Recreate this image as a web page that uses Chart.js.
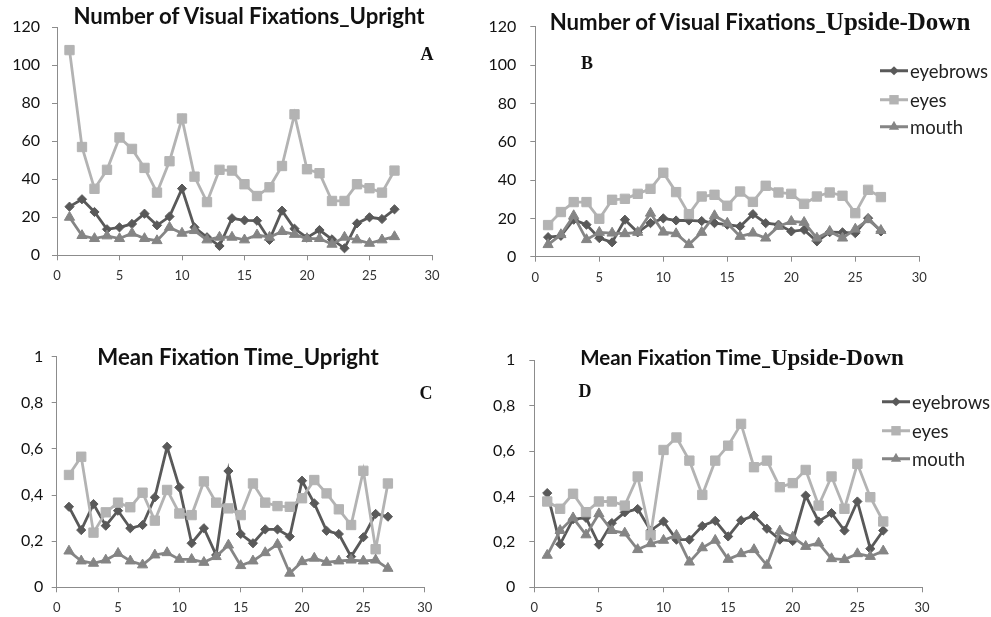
<!DOCTYPE html>
<html>
<head>
<meta charset="utf-8">
<script src="https://cdn.jsdelivr.net/npm/chart.js@4.4.1/dist/chart.umd.min.js"></script>
<style>
html,body{margin:0;padding:0;background:#fff;}
body{width:991px;height:617px;overflow:hidden;position:relative;}
canvas{position:absolute;}
.t{position:absolute;white-space:nowrap;transform:translate(-50%,-50%);font-family:Lato,sans-serif;font-weight:bold;color:#111;line-height:1;font-size:22.2px;}
.t .s{font-family:"Liberation Serif",serif;font-weight:bold;font-size:25px;}
.t.d{font-size:20.5px;}
.t.d .s{font-size:23px;}
.lt{position:absolute;font-family:"Liberation Serif",serif;font-weight:bold;font-size:18px;color:#111;line-height:1;transform:translate(-50%,-50%);}
.lg{position:absolute;display:flex;align-items:center;font-family:Lato,sans-serif;font-size:18.5px;color:#222;line-height:1;transform:translateY(-50%);}
.lg svg{margin-right:2px;}
</style>
</head>
<body>
<canvas id="cA" width="470" height="300" style="left:0;top:0"></canvas>
<canvas id="cB" width="521" height="300" style="left:470px;top:0"></canvas>
<canvas id="cC" width="470" height="317" style="left:0;top:300px"></canvas>
<canvas id="cD" width="521" height="317" style="left:470px;top:300px"></canvas>

<div class="t" style="left:249px;top:16px">Number of Visual Fixations_Upright</div>
<div class="t" style="left:760px;top:21px">Number of Visual Fixations_<span class="s">Upside-Down</span></div>
<div class="t" style="left:238px;top:357px">Mean Fixation Time_Upright</div>
<div class="t d" style="left:742px;top:357px">Mean Fixation Time_<span class="s">Upside-Down</span></div>

<div class="lt" style="left:427px;top:54px">A</div>
<div class="lt" style="left:587px;top:63px">B</div>
<div class="lt" style="left:426px;top:393px">C</div>
<div class="lt" style="left:585px;top:391px">D</div>

<div id="legends"></div>

<script>
// ---- data ----
const subjects = [1,2,3,4,5,6,7,8,9,10,11,12,13,14,15,16,17,18,19,20,21,22,23,24,25,26,27];
const seriesNames = ['eyebrows','eyes','mouth'];

// A: Number of Visual Fixations, Upright
const eyebrowsA = [25.6,29.5,22.8,13.7,14.7,16.5,21.9,15.8,20.4,35.1,14.7,9.5,4.9,19.5,18.4,18.2,8.1,23.5,14,9.3,13.3,8.4,3.7,16.8,20,19.1,24.2];
const eyesA     = [108,57,35,45,62,56,46,33,49.5,72,41.4,28,45,44.6,37.4,31.2,35.8,47,74.2,45.3,43.2,28.6,28.6,37.4,35.3,33,44.6];
const mouthA    = [20,10.4,8.8,10.2,8.8,11.6,8.8,7.7,14.7,11.6,13,8.1,9.5,9.5,8.1,10.7,9.5,12.5,11,8.8,8.8,5.8,9.5,8.1,6.3,8.1,9.8];

// B: Number of Visual Fixations, Upside-Down
const eyebrowsB = [10.2,10.9,19.3,16.7,9.7,7.5,19.3,12.7,17.5,20,18.9,18.9,18.6,17.5,16.7,15.8,22.2,17.5,16.7,13.2,14,8,12.8,12.7,12.3,20.1,13.2];
const eyesB     = [16.5,23.3,28.5,28.5,19.8,29.7,30.2,32.8,35.4,43.8,33.7,22.2,31.4,32.3,26.6,34,28.6,37,33.5,32.8,27.6,31.4,33.5,31.8,22.7,34.9,31.1];
const mouthB    = [6.3,11.5,21.4,8.9,12.7,12.3,12,12.7,22.7,12.8,12,6.3,12.7,21.4,17.5,10.6,12.3,9.7,15.8,18.4,17.9,9.7,13.2,9.7,14.4,19.3,13.7];

// C: Mean Fixation Time, Upright
const eyebrowsC = [0.349,0.248,0.361,0.267,0.332,0.256,0.27,0.39,0.609,0.433,0.191,0.256,0.14,0.504,0.231,0.191,0.251,0.251,0.22,0.462,0.364,0.245,0.231,0.133,0.217,0.318,0.306];
const eyesC     = [0.487,0.566,0.237,0.325,0.367,0.347,0.41,0.289,0.422,0.32,0.313,0.459,0.367,0.342,0.313,0.45,0.367,0.352,0.349,0.386,0.465,0.407,0.338,0.27,0.505,0.165,0.45];
const mouthC    = [0.157,0.114,0.104,0.118,0.147,0.114,0.097,0.14,0.15,0.121,0.121,0.108,0.133,0.183,0.094,0.114,0.15,0.186,0.061,0.111,0.126,0.108,0.114,0.118,0.114,0.118,0.082];

// D: Mean Fixation Time, Upside-Down
const eyebrowsD = [0.415,0.19,0.3,0.306,0.188,0.283,0.33,0.345,0.25,0.29,0.21,0.21,0.27,0.293,0.224,0.295,0.316,0.258,0.21,0.204,0.404,0.29,0.327,0.25,0.378,0.17,0.25];
const eyesD     = [0.378,0.346,0.412,0.331,0.378,0.378,0.36,0.488,0.229,0.605,0.66,0.558,0.407,0.558,0.624,0.72,0.529,0.558,0.441,0.459,0.517,0.36,0.488,0.346,0.544,0.397,0.29];
const mouthD    = [0.141,0.25,0.306,0.231,0.324,0.25,0.239,0.166,0.192,0.207,0.229,0.111,0.174,0.207,0.123,0.148,0.166,0.097,0.248,0.221,0.18,0.195,0.126,0.122,0.148,0.136,0.16];

// ---- styles ----
const COLORS = {eyebrows:'#595959', eyes:'#b3b3b3', mouth:'#858585'};
const POINT = {eyebrows:['rectRot',4.6], eyes:['rect',6.6], mouth:['triangle',5.9]};
const ORDER = {eyebrows:3, eyes:2, mouth:1};
const AXIS = '#8c8c8c';

function toPts(arr){ return arr.map((v,i)=>({x:subjects[i], y:v})); }

function makeDatasets(arrs){
  return seriesNames.map((n,k)=>({
    label:n,
    data:toPts(arrs[k]),
    borderColor:COLORS[n],
    backgroundColor:COLORS[n],
    borderWidth:2.8,
    pointStyle:POINT[n][0],
    pointRadius:POINT[n][1],
    pointBorderWidth:1,
    pointBorderColor:COLORS[n],
    pointBackgroundColor:COLORS[n],
    tension:0,
    order:ORDER[n]
  }));
}

function fmt(v, dec){
  if (!dec) return String(v);
  const r = Math.round(v*10)/10;
  return String(r).replace('.', ',');
}

function makeChart(id, g, arrs, yMax, yStep, dec){
  const ctx = document.getElementById(id);
  return new Chart(ctx, {
    type:'line',
    data:{datasets:makeDatasets(arrs)},
    options:{
      responsive:false, animation:false, devicePixelRatio:1,
      layout:{autoPadding:false, padding:{top:g.top, right:g.right, left:0, bottom:0}},
      plugins:{legend:{display:false}, title:{display:false}, tooltip:{enabled:false}},
      scales:{
        x:{type:'linear', min:0, max:30,
           ticks:{stepSize:5, color:'#333', font:{family:'Lato', size:13}, padding:g.xPad},
           grid:{display:true, drawOnChartArea:false, drawTicks:true, tickLength:5, color:AXIS},
           border:{display:true, color:AXIS, width:1},
           afterFit:(s)=>{ s.height = g.xH; }},
        y:{type:'linear', min:0, max:yMax,
           ticks:{stepSize:yStep, color:'#111', font:{family:'Lato', size:16}, padding:g.yPad,
                  callback:(v)=>fmt(v,dec)},
           grid:{display:true, drawOnChartArea:false, drawTicks:true, tickLength:5, color:AXIS},
           border:{display:true, color:AXIS, width:1},
           afterFit:(s)=>{ s.width = g.yW; }}
      }
    }
  });
}

// canvas B/D start at x=470
makeChart('cA', {top:27.3, right:470-432, xH:300-255.3, yW:57, xPad:8, yPad:12}, [eyebrowsA,eyesA,mouthA], 120, 20, false);
makeChart('cB', {top:26.7, right:991-919.3, xH:300-256.7, yW:535.3-470, xPad:8, yPad:14}, [eyebrowsB,eyesB,mouthB], 120, 20, false);
makeChart('cC', {top:56.6, right:470-424.7, xH:317-287.3, yW:56.7, xPad:8, yPad:8.5}, [eyebrowsC,eyesC,mouthC], 1, 0.2, true);
makeChart('cD', {top:60.3, right:991-922, xH:317-287.3, yW:534.3-470, xPad:8, yPad:14}, [eyebrowsD,eyesD,mouthD], 1, 0.2, true);

// ---- legends (HTML) ----
function markerSVG(n){
  const c = COLORS[n];
  let m = '';
  if (n==='eyebrows') m = `<polygon points="14,3.4 18.6,8 14,12.6 9.4,8" fill="${c}"/>`;
  else if (n==='eyes') m = `<rect x="9.3" y="3.3" width="9.4" height="9.4" fill="${c}"/>`;
  else m = `<polygon points="14,2.1 19.1,10.95 8.9,10.95" fill="${c}"/>`;
  return `<svg width="28" height="16" viewBox="0 0 28 16"><line x1="0" y1="8" x2="28" y2="8" stroke="${c}" stroke-width="2.8"/>${m}</svg>`;
}
const legendRows = [
  {x:880, ys:[71,99.5,127]},
  {x:882, ys:[402,431,459]}
];
const lgHost = document.getElementById('legends');
legendRows.forEach(L=>{
  seriesNames.forEach((n,k)=>{
    const d = document.createElement('div');
    d.className = 'lg';
    d.style.left = L.x + 'px';
    d.style.top = L.ys[k] + 'px';
    d.innerHTML = markerSVG(n) + '<span>' + n + '</span>';
    lgHost.appendChild(d);
  });
});
</script>
</body>
</html>
